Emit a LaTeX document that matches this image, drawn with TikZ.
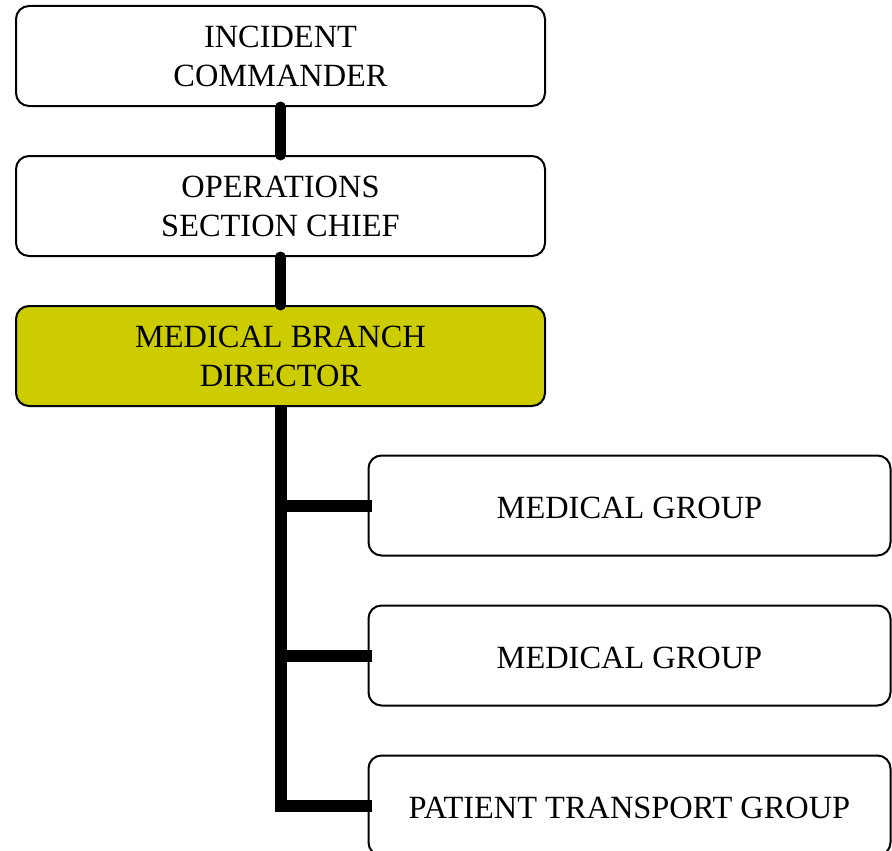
\documentclass[tikz,border=0pt]{standalone}
\usepackage{fontspec}
\setmainfont{Liberation Serif}
\definecolor{branchyellow}{RGB}{204,204,0}

\begin{document}
\begin{tikzpicture}[x=1pt, y=1pt,
    box/.style={draw, line width=2pt, rounded corners=13pt, fill=white,
                align=center, inner sep=0pt,
                execute at begin node={\rule{0pt}{25.5pt}},
                font=\fontsize{32.4}{39}\selectfont},
    topbox/.style={box, minimum width=529pt, minimum height=100pt},
    groupbox/.style={box, minimum width=522pt, minimum height=100pt},
    link/.style={line width=11pt, line cap=round},
    tree/.style={line width=12pt, line join=miter}]

  % Fix the page size and cut off what runs past it
  \useasboundingbox (0,0) rectangle (892,-851);
  \clip (0,0) rectangle (892,-851);

  % Define the centers of the boxes
  \coordinate (ICpos) at (280.5,-56);
  \coordinate (OSCpos) at (280.5,-206);
  \coordinate (MBDpos) at (280.5,-356);
  \coordinate (MG1pos) at (629.5,-505.5);
  \coordinate (MG2pos) at (629.5,-655.5);
  \coordinate (PTGpos) at (629.5,-805.5);

  % Draw the chain of command
  \node[topbox] (ic) at (ICpos) {INCIDENT\\COMMANDER};
  \node[topbox] (osc) at (OSCpos) {OPERATIONS\\SECTION CHIEF};
  \node[topbox, fill=branchyellow] (mbd) at (MBDpos) {MEDICAL BRANCH\\DIRECTOR};

  % Draw the groups under the branch
  \node[groupbox] (mg1) at (MG1pos) {MEDICAL GROUP};
  \node[groupbox] (mg2) at (MG2pos) {MEDICAL GROUP};
  \node[groupbox] (ptg) at (PTGpos) {PATIENT TRANSPORT GROUP};

  % Short links between the top boxes
  \draw[link] (ic.south) -- (osc.north);
  \draw[link] (osc.south) -- (mbd.north);

  % The trunk down from the branch director, with its arms
  \draw[tree] (mbd.south) |- ([xshift=4pt]ptg.west);
  \draw[tree] (mbd.south |- mg1.west) -- ([xshift=4pt]mg1.west);
  \draw[tree] (mbd.south |- mg2.west) -- ([xshift=4pt]mg2.west);

\end{tikzpicture}
\end{document}
